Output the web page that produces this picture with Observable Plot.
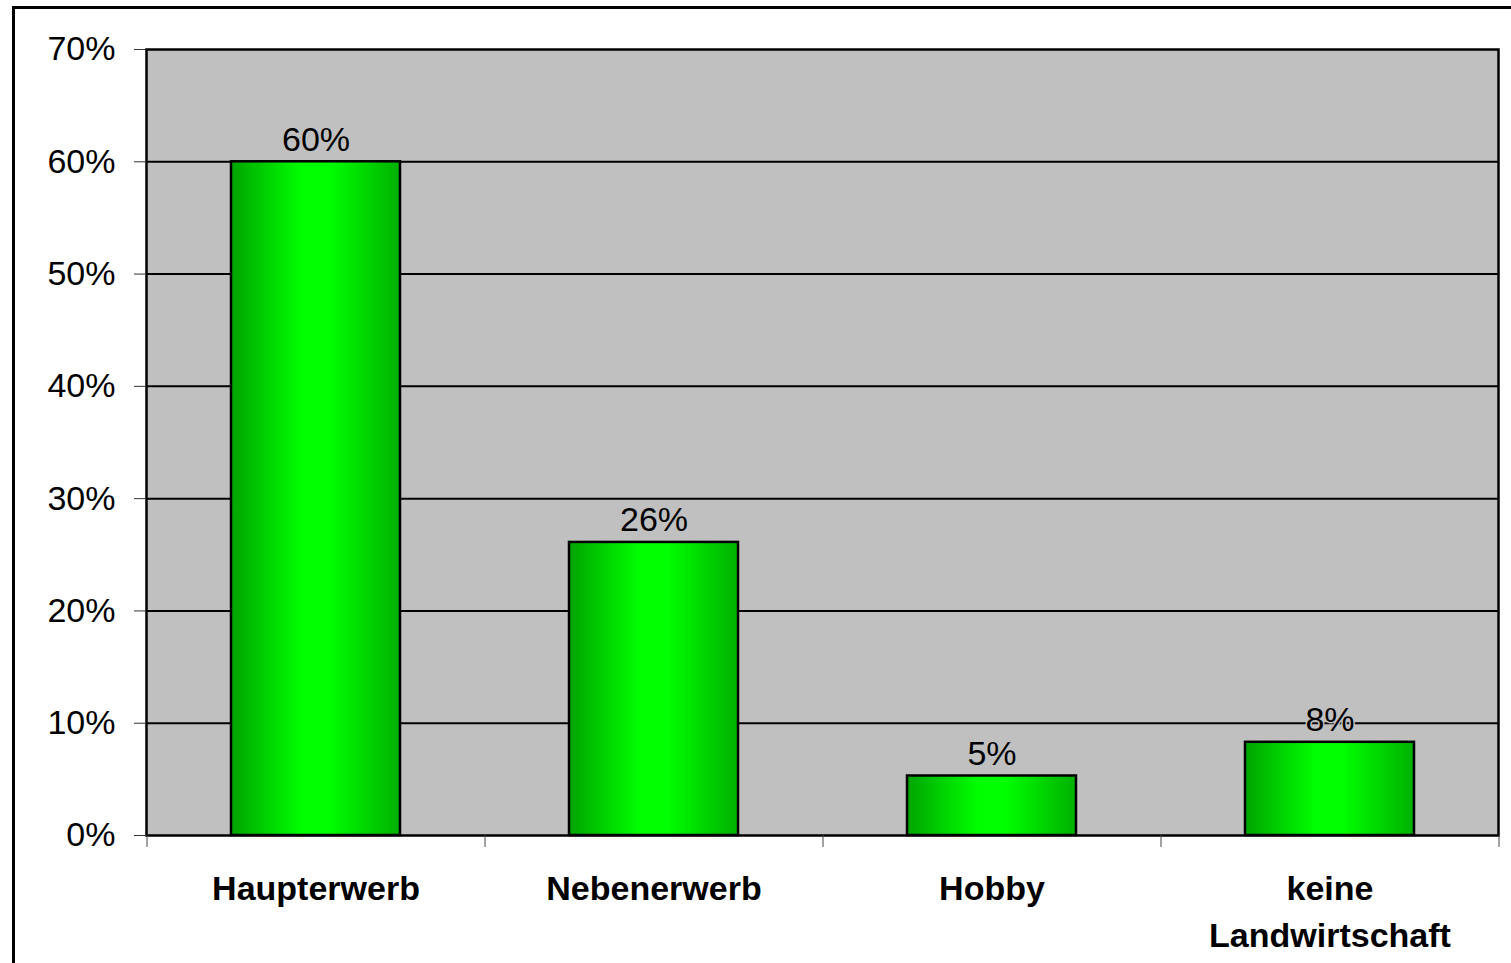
<!DOCTYPE html>
<html>
<head>
<meta charset="utf-8">
<script src="https://cdn.jsdelivr.net/npm/d3@7"></script>
<script src="https://cdn.jsdelivr.net/npm/@observablehq/plot@0.6"></script>
<style>
  html, body { margin: 0; padding: 0; background: #fff; overflow: hidden; }
  #wrap { position: relative; width: 1511px; height: 963px; }
  #border { position: absolute; left: 12px; top: 6px; width: 1600px; height: 1100px; border-left: 3px solid #000; border-top: 3px solid #000; box-sizing: border-box; }
  #chart { position: absolute; left: 0; top: 0; }
  svg { font-family: "Liberation Sans", Arial, sans-serif; }
</style>
</head>
<body>
<div id="wrap"><div id="border"></div><div id="chart"></div></div>
<script>
const categories = ["Haupterwerb", "Nebenerwerb", "Hobby", "keine\nLandwirtschaft"];
const values = [60, 26.1, 5.3, 8.3];
const valueLabels = ["60%", "26%", "5%", "8%"];
const yTicks = [0, 10, 20, 30, 40, 50, 60, 70];
const gridLines = [10, 20, 30, 40, 50, 60];

const data = categories.map((c, i) => ({cat: c, value: values[i], label: valueLabels[i]}));

const W = 1511, H = 963;
const mL = 146, mR = 13, mT = 49, mB = 128;
const step = (W - mL - mR) / categories.length;

const defs = () => {
  const g = d3.create("svg:defs");
  const lg = g.append("linearGradient").attr("id", "barGrad").attr("x1", "0").attr("x2", "1").attr("y1", "0").attr("y2", "0");
  [[0, "#00a400"], [0.42, "#00ff00"], [0.58, "#00ff00"], [1, "#00b000"]].forEach(([o, c]) =>
    lg.append("stop").attr("offset", o).attr("stop-color", c));
  return g.node();
};

const chart = Plot.plot({
  width: W,
  height: H,
  marginLeft: mL,
  marginRight: mR,
  marginTop: mT,
  marginBottom: mB,
  style: {fontFamily: "Liberation Sans, Arial, sans-serif", background: "transparent"},
  x: {domain: categories, paddingInner: 0.5, paddingOuter: 0.25, axis: null},
  y: {domain: [0, 70], axis: null},
  marks: [
    defs,
    Plot.frame({fill: "#c0c0c0", stroke: null}),
    Plot.ruleY(gridLines, {stroke: "#000", strokeWidth: 2}),
    Plot.barY(data, {x: "cat", y: "value", fill: "url(#barGrad)", stroke: "#000", strokeWidth: 2.5}),
    Plot.text(data, {x: "cat", y: "value", text: "label", dy: -22, fontSize: 34, fill: "#000",
      stroke: "#c0c0c0", strokeWidth: 3, paintOrder: "stroke"}),
    Plot.frame({stroke: "#000", strokeWidth: 2.5}),
    Plot.axisY(yTicks, {tickSize: 12, tickPadding: 19, fontSize: 34, stroke: "#333", strokeWidth: 1,
      tickFormat: d => d + "%", fill: "#000", label: null}),
    Plot.ruleX(categories, {x: d => d, y1: 0, y2: 0, insetBottom: -12, dx: -step / 2, stroke: "#444", strokeWidth: 1}),
    Plot.ruleX(categories.slice(-1), {x: d => d, y1: 0, y2: 0, insetBottom: -12, dx: step / 2, stroke: "#444", strokeWidth: 1}),
    Plot.text(categories, {x: d => d, frameAnchor: "bottom", dy: 31, lineAnchor: "top", fontWeight: "bold",
      fontSize: 34, lineHeight: 1.38, fill: "#000"})
  ]
});
document.getElementById("chart").appendChild(chart);
</script>
</body>
</html>
